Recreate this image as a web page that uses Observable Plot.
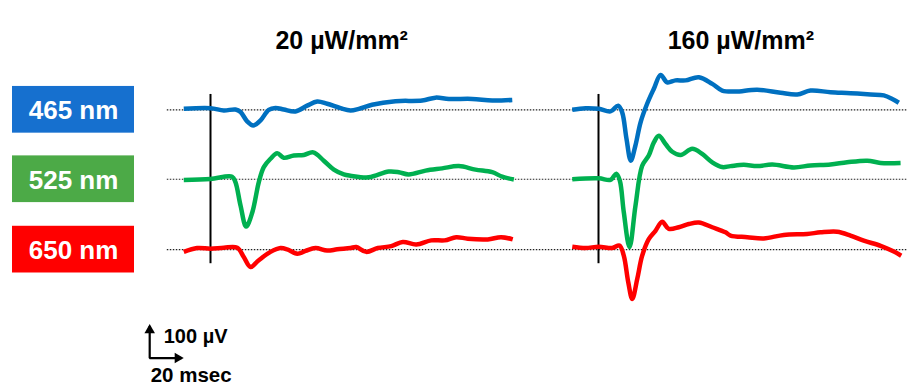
<!DOCTYPE html>
<html>
<head>
<meta charset="utf-8">
<script src="https://cdn.jsdelivr.net/npm/d3@7"></script>
<script src="https://cdn.jsdelivr.net/npm/@observablehq/plot@0.6"></script>
<style>
  html, body { margin: 0; padding: 0; background: #fff; }
  #chart { width: 907px; height: 385px; }
</style>
</head>
<body>
<div id="chart"></div>
<script>
// ---- categories ----
const wavelengths = ["465 nm", "525 nm", "650 nm"];
const intensities = ["20 µW/mm²", "160 µW/mm²"];
// vertical offset (µV) of each wavelength's baseline in the stacked display
const rowOffsets = [0, -217, -437];
// horizontal offset (ms) of each intensity panel
const panelOffsets = [0, 242.5];
const titleCenters = [82, 89];       // ms after stimulus (centre of each title)
const traceColors = ["#0070C0", "#00B050", "#FF0000"];
const boxColors = ["#1670CF", "#4CAA47", "#FF0000"];

// stimulus onset (ms) and its marker span (µV, relative to top baseline)
const stimTime = 0;
const stimSpan = [48, -481];

// scale bar
const scaleBarOrigin = [-38, -776];  // ms, µV
const scaleBarMs = 20;
const scaleBarUv = 100;

// ---- ERG traces: [time ms, amplitude µV] ----
const low465 = [[-16.7,3],[0,5],[8.3,-2],[15.6,1],[18.8,-7],[22.9,-36],[26.7,-49],[31.3,-33],[36.4,0],[40.6,6],[45.8,1],[53.1,-5],[60.4,13],[66.7,26],[72.9,19],[81.3,5],[87.5,-2],[92.7,3],[101,16],[115.6,27],[132.3,29],[140.6,38],[149,34],[163.6,34],[176.1,29],[188.6,31]];
const low525 = [[-16.7,-2],[0,1],[13.5,8],[15.6,-9],[18.8,-83],[22.3,-148],[26.1,-104],[30.2,-9],[33.3,38],[37.5,64],[41.7,81],[45.8,67],[52.1,74],[58.3,76],[64.2,84],[70.8,58],[77.1,30],[83.3,15],[87.5,11],[98.9,6],[111.4,24],[117.7,22],[123.9,15],[134.4,27],[144.8,34],[155.2,41],[165.6,30],[176.1,22],[182.3,8],[189.6,-1]];
const low650 = [[-16.7,-7],[-8.3,5],[0,3],[8.3,6],[16.7,6],[20.8,-23],[25,-54],[30.2,-33],[37.5,-7],[43.8,5],[47.9,1],[54.2,-13],[59.4,-4],[65.6,5],[72.9,-3],[79.2,1],[87.5,5],[91.1,8],[97.3,-7],[104.6,5],[113,11],[120.2,24],[128.6,16],[138,29],[146.3,29],[153.6,39],[160.8,34],[173.3,32],[181.6,39],[188.9,32]];
const high465 = [[-16.4,0],[-8.1,5],[0.2,3],[7.5,-5],[12.3,13],[14.8,-8],[17.5,-91],[20.2,-159],[23.1,-111],[26.3,-39],[30.4,19],[34.6,66],[38.8,109],[42.9,86],[48.1,92],[54.4,92],[62.7,102],[71.1,81],[77.3,60],[85.6,57],[99.2,63],[113.8,53],[124.2,48],[132.5,60],[145,55],[157.5,52],[170,48],[178.3,45],[183.6,34],[187.7,22]];
const high525 = [[-16.4,0],[0.2,3],[7.5,-2],[11.1,17],[13.3,-4],[15.8,-103],[19.4,-212],[23.1,-83],[27.3,42],[31.4,74],[34.6,115],[37.7,136],[41.9,110],[46.1,86],[51.3,76],[58.6,95],[64.8,79],[71.1,53],[77.3,38],[82.5,41],[90.8,45],[99.2,41],[108.6,46],[122.1,37],[132.5,43],[145,46],[155.4,53],[168,58],[176.3,51],[188.8,51]];
const high650 = [[-16.4,9],[-8.1,5],[0.2,9],[8.6,5],[13.1,13],[15.8,-19],[18.6,-102],[21.1,-154],[24.2,-92],[27.3,-19],[31.4,33],[35.6,59],[39.8,87],[43.9,65],[50.2,70],[56.4,80],[62.7,85],[71.1,70],[79.4,54],[82.5,44],[93,39],[103.3,35],[115.8,46],[130.4,49],[138.8,54],[149.2,56],[157.5,44],[165.8,28],[176.3,12],[184.6,-6],[189.2,-19]];

const traces = [
  [low465, low525, low650],
  [high465, high525, high650]
];

// ---- build tables ----
const rows = wavelengths.map((label, i) => ({label, offset: rowOffsets[i], box: boxColors[i]}));
const panels = intensities.map((label, j) => ({label, offset: panelOffsets[j], center: titleCenters[j]}));
const points = [];
traces.forEach((panel, j) => panel.forEach((tr, i) => tr.forEach(([t, v]) => {
  points.push({t: t + panelOffsets[j], v: v + rowOffsets[i], id: j + "-" + i, color: traceColors[i]});
})));

const [ox, oy] = scaleBarOrigin;
const one = [0];
// L-shaped scale bar path: top of the µV arm -> corner -> end of the ms arm
const scaleBarPath = [
  {t: ox, v: oy + scaleBarUv},
  {t: ox, v: oy},
  {t: ox + scaleBarMs, v: oy}
];

const chart = Plot.plot({
  width: 907,
  height: 385,
  margin: 0,
  x: {domain: [-131.25, 435.625], axis: null},
  y: {domain: [-861.6, 341.6], axis: null},
  color: {type: "identity"},
  style: {fontFamily: "'Liberation Sans', Arial, sans-serif", background: "#fff", color: "#000"},
  marks: [
    // dotted baselines
    Plot.ruleY(rows, {y: d => d.offset, x1: () => -27, x2: () => 436, stroke: "#222", strokeWidth: 1.2, strokeDasharray: "1.5,1.5"}),
    // stimulus onset markers
    Plot.ruleX(panels, {x: d => d.offset + stimTime, y1: () => stimSpan[0], y2: () => stimSpan[1], stroke: "#000", strokeWidth: 2}),
    // traces
    Plot.line(points, {x: "t", y: "v", z: "id", stroke: "color", strokeWidth: 4.5, curve: "catmull-rom", strokeLinejoin: "round", strokeLinecap: "butt"}),
    // wavelength label boxes
    Plot.rect(rows, {x1: () => -123.75, x2: () => -47.5, y1: d => d.offset - 73, y2: d => d.offset + 73, fill: "box"}),
    Plot.text(rows, {x: () => -85.6, y: d => d.offset, text: "label", fill: "#fff", fontSize: 26, fontWeight: "bold", dy: 1}),
    // titles
    Plot.text(panels, {x: d => d.offset + d.center, frameAnchor: "top", dy: 30.5, text: "label", fontSize: 25, fontWeight: "bold", fill: "#000"}),
    // scale bar
    Plot.line(scaleBarPath, {x: "t", y: "v", stroke: "#000", strokeWidth: 2.2, strokeLinejoin: "miter", strokeLinecap: "butt"}),
    Plot.dot(one, {x: () => ox, y: () => oy + scaleBarUv, symbol: "triangle2", r: 5, fill: "#000", stroke: "none", dy: 4}),
    Plot.dot(one, {x: () => ox + scaleBarMs, y: () => oy, symbol: "triangle2", r: 5, fill: "#000", stroke: "none", rotate: 90, dx: -4}),
    Plot.text(one, {x: () => ox, y: () => oy, text: () => scaleBarUv + " µV", textAnchor: "start", dx: 14, dy: -22, fontSize: 20, fontWeight: "bold", fill: "#000"}),
    Plot.text(one, {x: () => ox, y: () => oy, text: () => scaleBarMs + " msec", textAnchor: "start", dx: 1, dy: 17.5, fontSize: 20.5, fontWeight: "bold", fill: "#000"})
  ]
});
document.getElementById("chart").appendChild(chart);
</script>
</body>
</html>
